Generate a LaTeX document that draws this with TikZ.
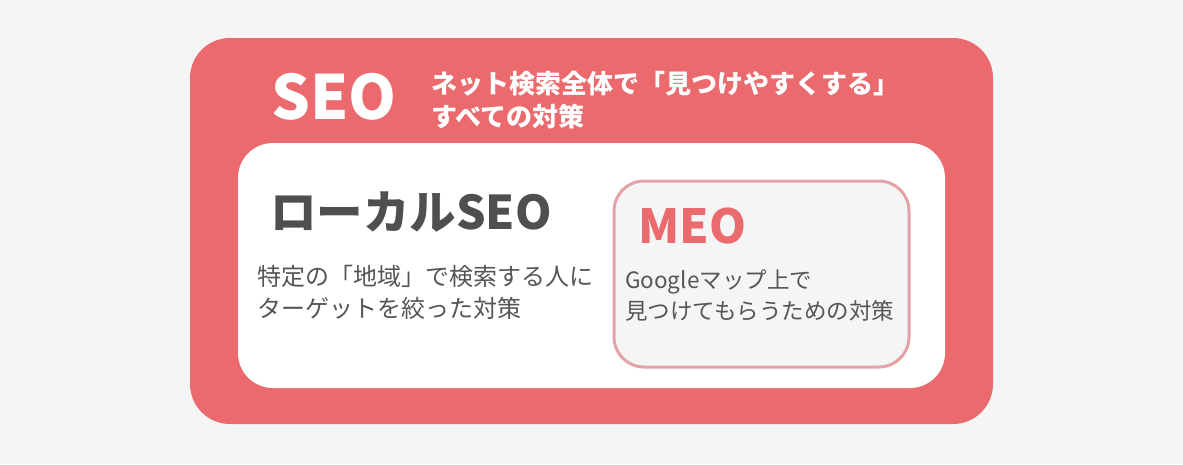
\documentclass[tikz,border=0pt]{standalone}
\usepackage{fontspec}
\setmainfont{Noto Sans CJK JP}
\definecolor{seored}{HTML}{EA6A6E}
\definecolor{meoline}{HTML}{E3A3A6}
\definecolor{pagebg}{HTML}{F5F5F5}
\definecolor{darktext}{HTML}{4F4F4F}
\definecolor{bodytext}{HTML}{555555}
\tikzset{
  line/.style={anchor=base west,inner sep=0pt},
  bodyline/.style={line,text=bodytext,font=\fontsize{24}{24}\selectfont},
  meoline/.style={line,text=bodytext,font=\fontsize{22.5}{22.5}\selectfont},
}

\begin{document}
\begin{tikzpicture}[x=1pt,y=-1pt]
\fill[pagebg] (0,0) rectangle (1183,464);
\useasboundingbox (0,0) rectangle (1183,464);

% outer SEO box
\fill[seored,rounded corners=40pt] (190,38) rectangle (993,424);
\node[line,text=white,font=\fontsize{61}{61}\selectfont\bfseries] (seo) at (271,119) {SEO};
\node[line,text=white,font=\fontsize{26}{26}\selectfont\bfseries] (seoa) at (431,93) {ネット検索全体で「見つけやすくする」};
\node[line,text=white,font=\fontsize{26}{26}\selectfont\bfseries] (seob) at (431,126) {すべての対策};

% local SEO box
\fill[white,rounded corners=35pt] (238,143) rectangle (945,388);
\node[line,text=darktext,font=\fontsize{46.5}{46.5}\selectfont\bfseries] (local) at (270,229) {ローカルSEO};
\node[bodyline] (locala) at (257,285) {特定の「地域」で検索する人に};
\node[bodyline] (localb) at (257,317) {ターゲットを絞った対策};

% MEO box
\filldraw[fill=pagebg,draw=meoline,line width=3pt,rounded corners=30pt] (614,181) rectangle (909,367);
\node[line,text=seored,font=\fontsize{47}{47}\selectfont\bfseries] (meo) at (638,243) {MEO};
\node[meoline] (meoa) at (625,288) {Googleマップ上で};
\node[meoline] (meob) at (625,319) {見つけてもらうための対策};
\end{tikzpicture}
\end{document}
